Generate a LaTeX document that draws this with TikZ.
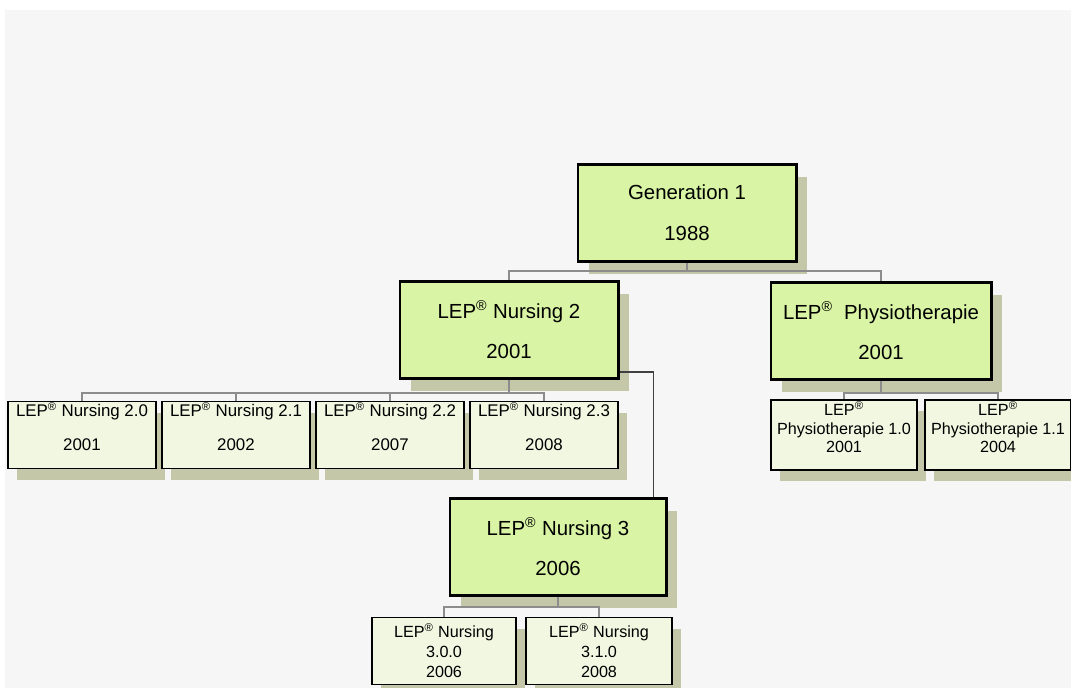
\documentclass[tikz,border=0pt]{standalone}
\usepackage{fontspec}
\setmainfont{Liberation Sans}
\usetikzlibrary{positioning,shadows}

\definecolor{bigfill}{HTML}{D8F4A4}
\definecolor{smallfill}{HTML}{F2F7E2}
\definecolor{shadowc}{HTML}{C4C7A8}
\definecolor{bgc}{HTML}{F6F6F6}
\definecolor{linkc}{HTML}{8C8C8C}

\newcommand{\lep}{LEP\textsuperscript{\textregistered}}
\newcommand{\liftup}{\\[-2pt]\mbox{}}

\begin{document}
\begin{tikzpicture}[
  x=0.025cm, y=-0.025cm,
  bigbox/.style={rectangle, draw=black, line width=2.1pt, fill=bigfill, align=center,
    font=\fontsize{14.5}{17}\selectfont, minimum width=5.45cm, minimum height=2.42cm, inner sep=2pt,
    drop shadow={shadow xshift=0.28cm, shadow yshift=-0.32cm, fill=shadowc, opacity=1}},
  smallbox/.style={rectangle, draw=black, line width=1.2pt, fill=smallfill, align=center,
    font=\fontsize{12}{14}\selectfont, minimum width=3.7cm, minimum height=1.68cm, inner sep=1pt,
    drop shadow={shadow xshift=0.22cm, shadow yshift=-0.28cm, fill=shadowc, opacity=1}},
  tinytext/.style={font=\fontsize{11.5}{13.2}\selectfont},
  link/.style={draw=linkc, line width=0.9pt}
]
  \useasboundingbox (0,0) rectangle (1071,688);
  \fill[bgc] (5,10) rectangle (1071,688);

  % top levels
  \node[bigbox] (gen) at (687,213) {Generation 1\\[0.42cm]1988};
  \node[bigbox] (nurse2) at (509,330) {\lep{} Nursing 2\\[0.42cm]2001};
  \node[bigbox, minimum width=5.5cm] (physio) at (881,331) {\lep{}\ \ Physiotherapie\\[0.42cm]2001};

  % nursing 2 children
  \node[smallbox] (n20) at (82,435) {\lep{} Nursing 2.0\\[0.34cm]2001\liftup};
  \node[smallbox] (n21) at (236,435) {\lep{} Nursing 2.1\\[0.34cm]2002\liftup};
  \node[smallbox] (n22) at (390,435) {\lep{} Nursing 2.2\\[0.34cm]2007\liftup};
  \node[smallbox] (n23) at (544,435) {\lep{} Nursing 2.3\\[0.34cm]2008\liftup};

  % physio children
  \node[smallbox, tinytext, minimum width=3.65cm] (p10) at (844,435) {\lep\\Physiotherapie 1.0\\2001\liftup};
  \node[smallbox, tinytext, minimum width=3.65cm] (p11) at (998,435) {\lep\\Physiotherapie 1.1\\2004\liftup};

  % nursing 3
  \node[bigbox, minimum width=5.4cm] (nurse3) at (558,547) {\lep{} Nursing 3\\[0.42cm]2006};
  \node[smallbox, tinytext, minimum width=3.6cm] (n300) at (444,651) {\lep{} Nursing\\[1pt]3.0.0\\[1pt]2006};
  \node[smallbox, tinytext, minimum width=3.65cm] (n310) at (599,651) {\lep{} Nursing\\[1pt]3.1.0\\[1pt]2008};

  % connectors
  \draw[link] (gen.south) -- ++(0,8) -| (nurse2.north);
  \draw[link] (gen.south) -- ++(0,8) -| (physio.north);
  \foreach \c in {n20,n21,n22,n23}
    \draw[link] (nurse2.south) -- ++(0,13) -| (\c.north);
  \foreach \c in {p10,p11}
    \draw[link] (physio.south) -- ++(0,12) -| (\c.north);
  \foreach \c in {n300,n310}
    \draw[link] (nurse3.south) -- ++(0,10) -| (\c.north);
  \draw[draw=black!75, line width=0.9pt] ([yshift=0.2cm]nurse2.south east) -| ([xshift=-0.35cm]nurse3.north east);
\end{tikzpicture}
\end{document}
